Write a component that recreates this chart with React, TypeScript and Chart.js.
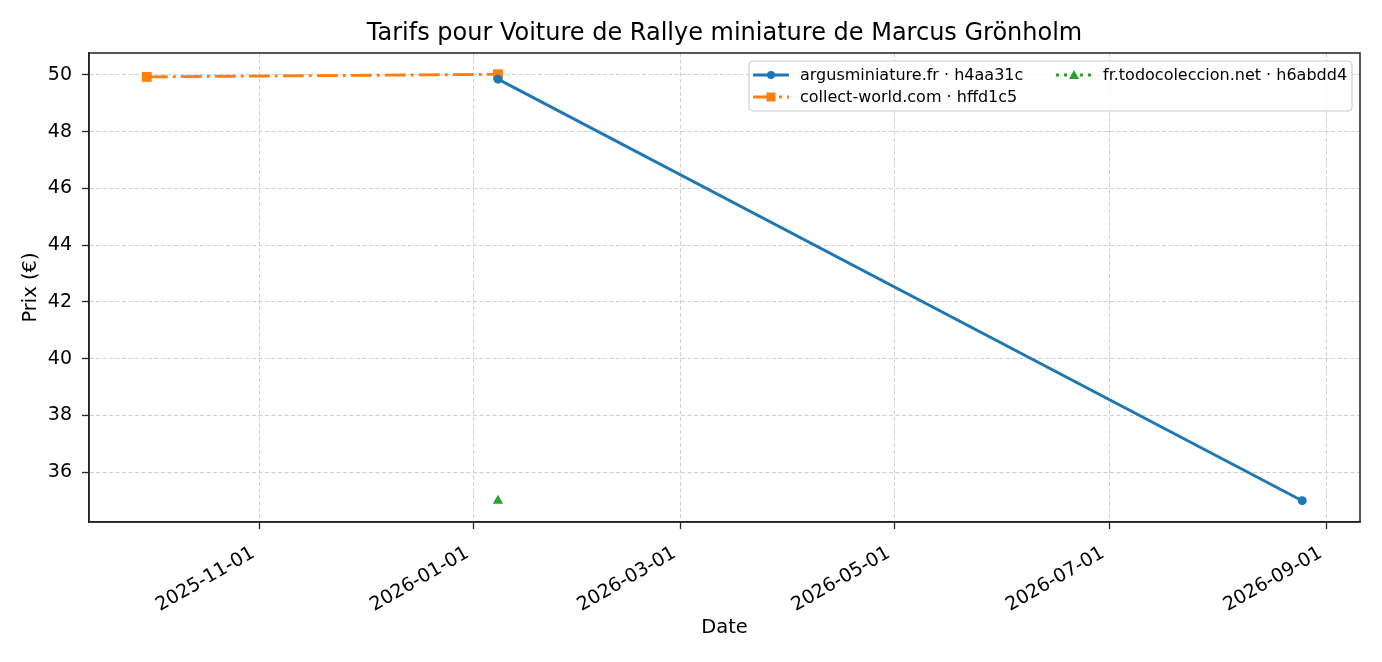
import { useEffect, useRef } from "react"
import { Chart, type ChartConfiguration, type Plugin, registerables } from "chart.js"

Chart.register(...registerables)

const FONT = "DejaVu Sans"

const day = (y: number, m: number, d: number) => Date.UTC(y, m - 1, d)

// Séries
const argusDates = [day(2026, 1, 8), day(2026, 8, 25)]
const argusPrices = [49.85, 35.0]
const collectDates = [day(2025, 9, 30), day(2026, 1, 8)]
const collectPrices = [49.93, 50.02]
const todoDates = [day(2026, 1, 8)]
const todoPrices = [35.0]

const xTickLabels = ["2025-11-01", "2026-01-01", "2026-03-01", "2026-05-01", "2026-07-01", "2026-09-01"]
const yTickValues = [36, 38, 40, 42, 44, 46, 48, 50]

const seriesNames = [
	"argusminiature.fr · h4aa31c",
	"collect-world.com · hffd1c5",
	"fr.todocoleccion.net · h6abdd4",
]
const seriesColors = ["#1f77b4", "#ff7f0e", "#2ca02c"]
const seriesDash = [[], [21, 5, 3, 5], [3, 5]]
const seriesMarker = ["circle", "rect", "triangle"]
const seriesRadius = [4.5, 7, 6]

const pairs = (xs: number[], ys: number[]) => xs.map((x, i) => ({ x, y: ys[i] }))

const parseDate = (s: string) => {
	const [y, m, d] = s.split("-").map(Number)
	return day(y, m, d)
}
const fmtDate = (v: number) => new Date(v).toISOString().slice(0, 10)

// marges de 5 % comme matplotlib
const allX = [...argusDates, ...collectDates, ...todoDates]
const allY = [...argusPrices, ...collectPrices, ...todoPrices]
const xMinD = Math.min(...allX)
const xMaxD = Math.max(...allX)
const yMinD = Math.min(...allY)
const yMaxD = Math.max(...allY)
const xPad = (xMaxD - xMinD) * 0.05
const yPad = (yMaxD - yMinD) * 0.05

const decorPlugin: Plugin = {
	id: "decor",
	afterDraw(chart) {
		const { ctx, chartArea } = chart
		const { left, right, top, bottom } = chartArea
		ctx.save()
		// cadre
		ctx.strokeStyle = "#222"
		ctx.lineWidth = 1.5
		ctx.setLineDash([])
		ctx.strokeRect(left, top, right - left, bottom - top)

		// titres
		ctx.fillStyle = "#000"
		ctx.textAlign = "center"
		ctx.textBaseline = "middle"
		ctx.font = `24px "${FONT}"`
		ctx.fillText("Tarifs pour Voiture de Rallye miniature de Marcus Grönholm", (left + right) / 2, 34)
		ctx.font = `19.5px "${FONT}"`
		ctx.fillText("Date", (left + right) / 2, 628)
		ctx.save()
		ctx.translate(31, (top + bottom) / 2)
		ctx.rotate(-Math.PI / 2)
		ctx.fillText("Prix (€)", 0, 0)
		ctx.restore()

		// légende
		const bx = 749, by = 61, bw = 603, bh = 50
		ctx.beginPath()
		ctx.roundRect(bx, by, bw, bh, 4)
		ctx.fillStyle = "rgba(255,255,255,0.8)"
		ctx.fill()
		ctx.strokeStyle = "#cccccc"
		ctx.lineWidth = 1.2
		ctx.stroke()
		const slots = [
			{ x: 753, y: 75 },
			{ x: 753, y: 97 },
			{ x: 1056, y: 75 },
		]
		ctx.font = `16px "${FONT}"`
		ctx.textAlign = "left"
		slots.forEach((s, i) => {
			ctx.strokeStyle = seriesColors[i]
			ctx.lineWidth = 2.8
			ctx.setLineDash(seriesDash[i])
			ctx.beginPath()
			ctx.moveTo(s.x, s.y)
			ctx.lineTo(s.x + 36, s.y)
			ctx.stroke()
			ctx.setLineDash([])
			ctx.fillStyle = seriesColors[i]
			const cx = s.x + 18
			if (seriesMarker[i] === "circle") {
				ctx.beginPath()
				ctx.arc(cx, s.y, 4, 0, Math.PI * 2)
				ctx.fill()
			} else if (seriesMarker[i] === "rect") {
				ctx.fillRect(cx - 4.5, s.y - 4.5, 9, 9)
			} else {
				ctx.beginPath()
				ctx.moveTo(cx, s.y - 5)
				ctx.lineTo(cx + 5, s.y + 4)
				ctx.lineTo(cx - 5, s.y + 4)
				ctx.closePath()
				ctx.fill()
			}
			ctx.fillStyle = "#000"
			ctx.fillText(seriesNames[i], s.x + 47, s.y + 1)
		})
		ctx.restore()
	},
}

export default function App() {
	const canvasRef = useRef<HTMLCanvasElement>(null)
	const chartRef = useRef<Chart | null>(null)

	useEffect(() => {
		document.body.style.margin = "0"
		if (!canvasRef.current) return
		if (chartRef.current) chartRef.current.destroy()
		const ctx = canvasRef.current.getContext("2d")
		if (!ctx) return

		const data = [pairs(argusDates, argusPrices), pairs(collectDates, collectPrices), pairs(todoDates, todoPrices)]

		const config: ChartConfiguration = {
			type: "line",
			data: {
				datasets: data.map((d, i) => ({
					label: seriesNames[i],
					data: d,
					borderColor: seriesColors[i],
					backgroundColor: seriesColors[i],
					borderWidth: 2.9,
					borderDash: seriesDash[i],
					pointStyle: seriesMarker[i] as any,
					pointRadius: seriesRadius[i],
					pointBorderWidth: 0,
					pointBackgroundColor: seriesColors[i],
					tension: 0,
					fill: false,
				})),
			},
			options: {
				responsive: true,
				maintainAspectRatio: false,
				animation: false,
				layout: { padding: { top: 53, right: 22, left: 0, bottom: 0 } },
				plugins: {
					legend: { display: false },
					title: { display: false },
					tooltip: { enabled: false },
				},
				scales: {
					x: {
						type: "linear",
						min: xMinD - xPad,
						max: xMaxD + xPad,
						afterBuildTicks: (scale) => {
							scale.ticks = xTickLabels.map((s) => ({ value: parseDate(s) }))
						},
						afterFit: (scale) => {
							scale.height = 140
						},
						ticks: {
							color: "#000",
							font: { family: FONT, size: 19 },
							minRotation: 30,
							maxRotation: 30,
							padding: 13,
							labelOffset: -6,
							callback: (v) => fmtDate(Number(v)),
						},
						grid: {
							color: "#cfcfcf",
							lineWidth: 1,
							drawTicks: true,
							tickLength: 7,
							tickColor: "#222",
							tickWidth: 1.3,
							tickBorderDash: [],
						},
						border: { color: "#222", width: 1.5, dash: [4, 2.5] },
					},
					y: {
						type: "linear",
						min: yMinD - yPad,
						max: yMaxD + yPad,
						afterBuildTicks: (scale) => {
							scale.ticks = yTickValues.map((v) => ({ value: v }))
						},
						afterFit: (scale) => {
							scale.width = 89
						},
						ticks: {
							color: "#000",
							font: { family: FONT, size: 19 },
							padding: 10,
						},
						grid: {
							color: "#cfcfcf",
							lineWidth: 1,
							tickLength: 7,
							tickColor: "#222",
							tickWidth: 1.3,
							tickBorderDash: [],
						},
						border: { color: "#222", width: 1.5, dash: [4, 2.5] },
					},
				},
			},
			plugins: [decorPlugin],
		}

		chartRef.current = new Chart(ctx, config)

		return () => {
			if (chartRef.current) {
				chartRef.current.destroy()
				chartRef.current = null
			}
		}
	}, [])

	return (
		<div style={{ position: "absolute", left: 0, top: 0, width: 1382, height: 662, background: "#fff" }}>
			<canvas ref={canvasRef}></canvas>
		</div>
	)
}
